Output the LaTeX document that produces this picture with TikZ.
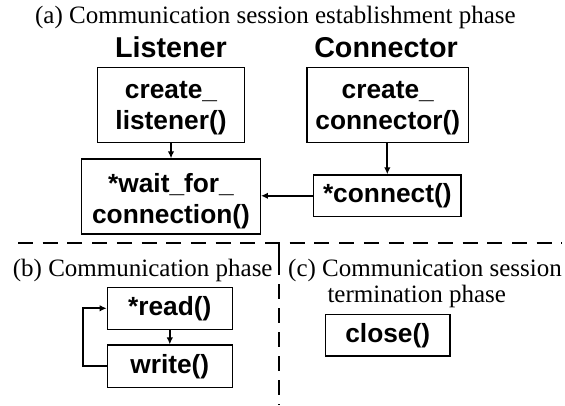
\documentclass[tikz,border=0pt]{standalone}
\usepackage{fontspec}
\setmainfont{Liberation Serif}
\newfontfamily\boxfont{Liberation Sans}
\usetikzlibrary{arrows.meta}
\newcommand\topstrut[1]{\rule{0pt}{#1pt}}
\tikzset{
  fbox/.style={draw, line width=1.3pt, inner sep=0pt, align=center,
    font=\boxfont\bfseries\fontsize{26.3}{31}\selectfont},
  head/.style={font=\boxfont\bfseries\fontsize{28.7}{32}\selectfont, inner sep=0pt},
  captxt/.style={font=\fontsize{25}{29}\selectfont, inner sep=0pt},
  arr/.style={line width=1.7pt, -{Latex[length=7pt,width=6.5pt]}},
  sep/.style={line width=2.2pt, dash pattern=on 15pt off 9.7pt},
  vsep/.style={line width=2.2pt, dash pattern=on 32pt off 9pt on 15pt off 9pt on 15pt off 9pt on 15pt off 9pt on 15pt off 9pt on 15pt off 9pt on 15pt off 9pt}
}
\begin{document}
\begin{tikzpicture}[x=1pt,y=-1pt]
\useasboundingbox (0,0) rectangle (565,405);
\node[captxt] (ta) at (275.4,17) {(a) Communication session establishment phase};
\node[head, anchor=base] (hl) at (171,57) {Listener};
\node[head, anchor=base] (hc) at (386,57) {Connector};
\node[fbox, minimum width=147.4pt, minimum height=75pt] (cl) at (171,104.8) {\topstrut{24}create\_\\listener()};
\node[fbox, minimum width=161.7pt, minimum height=75pt] (cc) at (387.8,104.8) {\topstrut{24}create\_\\connector()};
\node[fbox, minimum width=178.6pt, minimum height=75pt] (wf) at (171,196.5) {\topstrut{28}*wait\_for\_\\connection()};
\node[fbox, minimum width=147.3pt, minimum height=41.7pt] (cn) at (387.3,195.8) {*connect()};
\draw[arr] (cl.south) -- (wf.north);
\draw[arr] (cc.south -| cn.north) -- (cn.north);
\draw[arr] (cn.west) -- (wf.east |- cn.west);
\coordinate (hl0) at (18,243.3);
\coordinate (hl1) at (562,243.3);
\coordinate (vl0) at (278.7,243.3);
\coordinate (vl1) at (278.7,405);
\draw[sep] (hl0) -- (hl1);
\draw[vsep] (vl0) -- (vl1);
\node[captxt, anchor=west] (tb) at (12.7,270) {(b) Communication phase};
\node[captxt, anchor=west] (tc) at (288,270) {(c) Communication session};
\node[captxt, anchor=west] (tc2) at (327.3,296.7) {termination phase};
\node[fbox, minimum width=125pt, minimum height=42pt] (rd) at (169.8,308.3) {*read()};
\node[fbox, minimum width=125pt, minimum height=42.3pt] (wr) at (169.8,366.2) {write()};
\node[fbox, minimum width=124.7pt, minimum height=41.7pt] (cs) at (387.7,335.2) {close()};
\draw[arr] (rd.south) -- (wr.north);
\coordinate (lp) at (82.7,0);
\draw[arr] (wr.west) -- (lp |- wr.west) -- (lp |- rd.west) -- (rd.west);
\end{tikzpicture}
\end{document}
